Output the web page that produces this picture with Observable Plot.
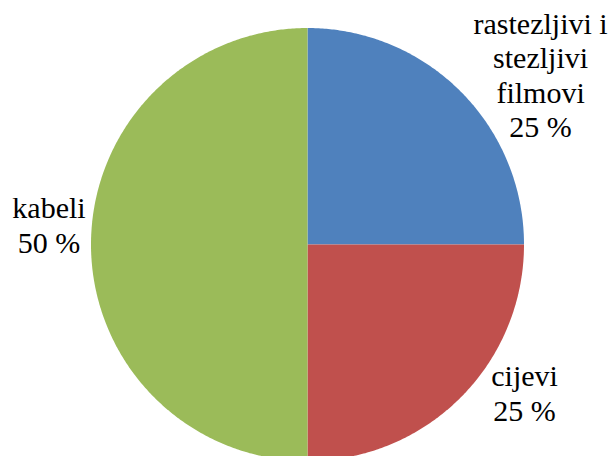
<!DOCTYPE html>
<html>
<head>
<meta charset="utf-8">
<script src="https://cdn.jsdelivr.net/npm/d3@7"></script>
<script src="https://cdn.jsdelivr.net/npm/@observablehq/plot@0.6"></script>
<style>
  html, body { margin: 0; padding: 0; background: #fff; }
  #chart { width: 613px; height: 456px; }
</style>
</head>
<body>
<div id="chart"></div>
<script>
// Data
const categories = ["rastezljivi i\nstezljivi\nfilmovi", "cijevi", "kabeli"];
const values = [25, 25, 50];
const colors = ["#4F81BD", "#C0504D", "#9BBB59"];

const W = 613, H = 456;
const cx = 307, cy = 244, R = 216.5;
const FONT = "Liberation Serif";

// Pie angles (clockwise from 12 o'clock)
const total = d3.sum(values);
let acc = 0;
const slices = values.map((v, i) => {
  const a0 = acc / total * 2 * Math.PI;
  acc += v;
  const a1 = acc / total * 2 * Math.PI;
  return {key: categories[i], value: v, a0, a1, mid: (a0 + a1) / 2};
});

// Polygon points of each wedge (unit radius)
const pts = [];
for (const s of slices) {
  pts.push({key: s.key, x: 0, y: 0});
  const n = Math.max(2, Math.ceil((s.a1 - s.a0) / (Math.PI / 360)));
  for (let k = 0; k <= n; k++) {
    const a = s.a0 + (s.a1 - s.a0) * k / n;
    pts.push({key: s.key, x: Math.sin(a), y: Math.cos(a)});
  }
  pts.push({key: s.key, x: 0, y: 0});
}

// Label offsets (px) from the wedge edge at mid-angle
const labelOffsets = [[80, 46], [64, 23], [-42, 8]];

const labelMarks = slices.map((s, i) => Plot.text([s], {
  x: d => Math.sin(d.mid),
  y: d => Math.cos(d.mid),
  text: d => d.key + "\n" + d.value + " %",
  dx: labelOffsets[i][0],
  dy: labelOffsets[i][1],
  lineAnchor: "bottom",
  textAnchor: "middle",
  lineHeight: 1.15,
  fontSize: 30,
  fontFamily: FONT,
  fill: "black"
}));

const chart = Plot.plot({
  width: W,
  height: H,
  margin: 0,
  x: {domain: [-cx / R, (W - cx) / R], range: [0, W], axis: null},
  y: {domain: [-(H - cy) / R, cy / R], range: [H, 0], axis: null},
  color: {domain: categories, range: colors},
  marks: [
    Plot.line(pts, {x: "x", y: "y", z: "key", fill: "key", stroke: "none", curve: "linear"}),
    ...labelMarks
  ]
});
chart.setAttribute("font-family", FONT);
d3.select(chart).selectAll("text, tspan")
  .attr("font-family", FONT)
  .attr("font-size", 30)
  .style("font-family", FONT);
document.getElementById("chart").appendChild(chart);
</script>
</body>
</html>
